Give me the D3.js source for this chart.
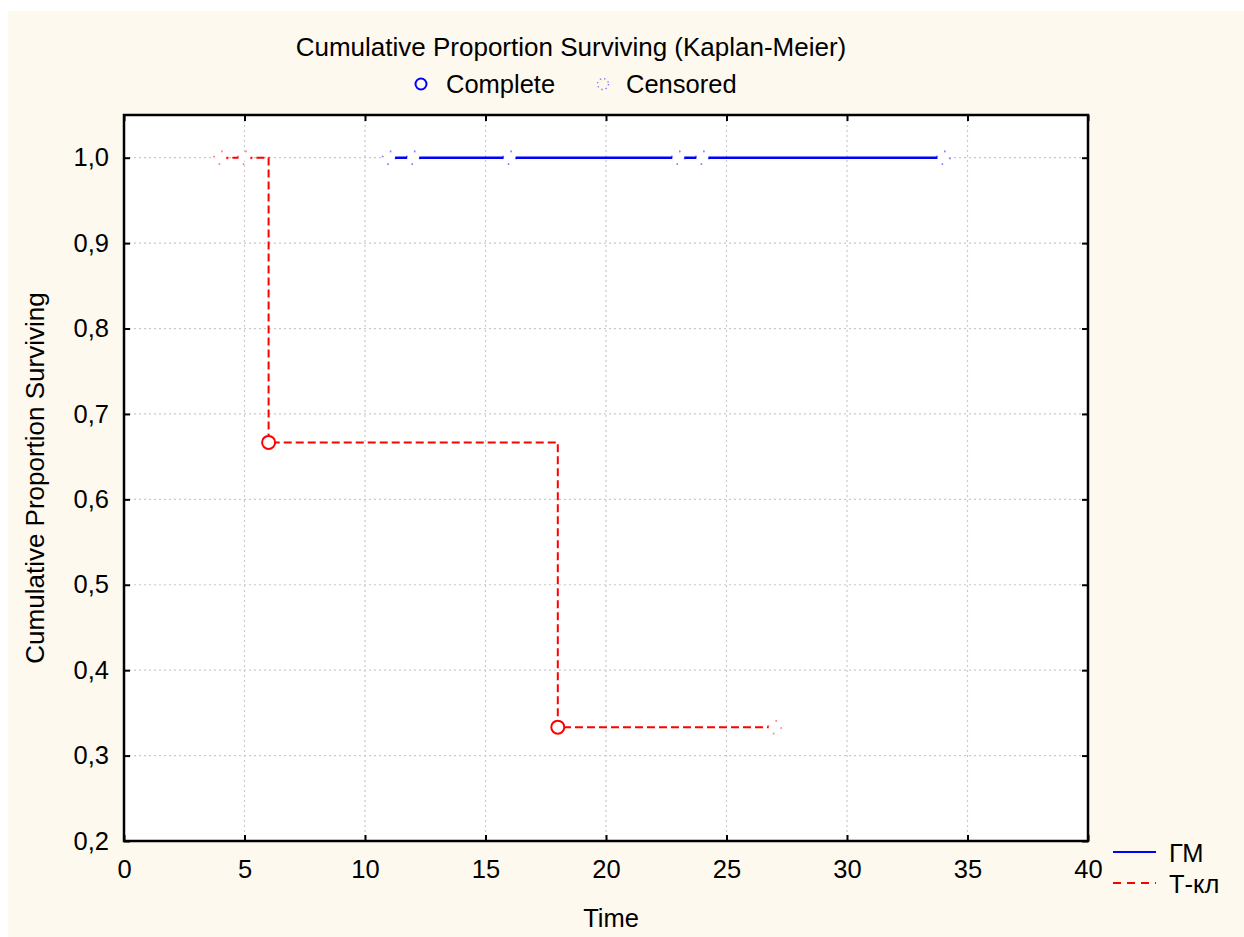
<!DOCTYPE html>
<html>
<head>
<meta charset="utf-8">
<script src="https://cdn.jsdelivr.net/npm/d3@7"></script>
<style>
  body { margin: 0; background: #fff; }
  text { font-family: Arial, "Liberation Sans", sans-serif; fill: #000; }
</style>
</head>
<body>
<script>
// Kaplan-Meier data
const gmTimes = [11, 12, 16, 23, 24, 34];
const gmSurv = [1, 1, 1, 1, 1, 1];
const gmCensored = [1, 1, 1, 1, 1, 1];

const tklTimes = [4, 5, 6, 18, 27];
const tklSurv = [1, 1, 0.6667, 0.3333, 0.3333];
const tklCensored = [1, 1, 0, 0, 1];

const xTicks = [0, 5, 10, 15, 20, 25, 30, 35, 40];
const yTicks = [0.2, 0.3, 0.4, 0.5, 0.6, 0.7, 0.8, 0.9, 1.0];

const seriesNames = ["ГМ", "Т-кл"];

const width = 1244, height = 937;
const plot = { left: 124, top: 115, right: 1088, bottom: 841 };
const fontSize = 25.5;

const svg = d3.select("body").append("svg")
    .attr("width", width)
    .attr("height", height);

// cream background panel
svg.append("rect")
    .attr("x", 8).attr("y", 11)
    .attr("width", width - 8).attr("height", height - 11)
    .attr("fill", "#fdf9ee");

let x = d3.scaleLinear().domain([0, 40]).range([plot.left, plot.right]);
let y = d3.scaleLinear().domain([0.2, 1.05]).range([plot.bottom, plot.top]);

// plot area
svg.append("rect")
    .attr("x", plot.left).attr("y", plot.top)
    .attr("width", plot.right - plot.left).attr("height", plot.bottom - plot.top)
    .attr("fill", "#fff");

// grid lines
const grid = svg.append("g").attr("stroke", "#c9c9c9").attr("stroke-width", 1.2)
    .attr("stroke-dasharray", "2,3");
grid.selectAll(".vgrid")
    .data(xTicks.slice(1, -1))
    .enter().append("line")
    .attr("x1", d => x(d)).attr("x2", d => x(d))
    .attr("y1", plot.top).attr("y2", plot.bottom);
grid.selectAll(".hgrid")
    .data(yTicks.slice(1))
    .enter().append("line")
    .attr("x1", plot.left).attr("x2", plot.right)
    .attr("y1", d => y(d)).attr("y2", d => y(d));

// axes (ticks pointing inward, labels drawn with the axis)
const fmt = d => d3.format(".1f")(d).replace(".", ",");

const xAxis = svg.append("g")
    .attr("transform", "translate(0," + plot.bottom + ")")
    .call(d3.axisBottom(x).tickValues(xTicks).tickSize(-6).tickPadding(29).tickFormat(d3.format("d")));
const yAxis = svg.append("g")
    .attr("transform", "translate(" + plot.left + ",0)")
    .call(d3.axisLeft(y).tickValues(yTicks).tickSize(-6).tickPadding(15).tickFormat(fmt));
svg.append("g")
    .attr("transform", "translate(0," + plot.top + ")")
    .call(d3.axisTop(x).tickValues(xTicks).tickSize(-6).tickFormat(""));
svg.append("g")
    .attr("transform", "translate(" + plot.right + ",0)")
    .call(d3.axisRight(y).tickValues(yTicks).tickSize(-6).tickFormat(""));

svg.selectAll(".domain").remove();
svg.selectAll(".tick line").attr("stroke", "#000").attr("stroke-width", 2);
svg.selectAll(".tick text").attr("font-size", fontSize).attr("font-family", "Arial, 'Liberation Sans', sans-serif");
xAxis.selectAll(".tick text").attr("dy", "0.3em");

// series
function drawSeries(times, surv, cens, color, dash) {
    const pts = times.map((t, i) => ({ t: t, s: surv[i], c: cens[i] }));
    const line = d3.line()
        .x(d => x(d.t)).y(d => y(d.s))
        .curve(d3.curveStepAfter);

    svg.append("path")
        .datum(pts)
        .attr("d", line)
        .attr("fill", "none")
        .attr("stroke", color)
        .attr("stroke-width", dash ? 2 : 2.6)
        .attr("stroke-dasharray", dash ? "8,4" : null);

    // the line is cut around censored points
    svg.selectAll(null)
        .data(pts.filter(d => d.c))
        .enter().append("rect")
        .attr("x", d => x(d.t) - 6).attr("y", d => y(d.s) - 3)
        .attr("width", 12).attr("height", 6)
        .attr("fill", "#fff");

    svg.selectAll(null)
        .data(pts.filter(d => d.c))
        .enter().append("circle")
        .attr("cx", d => x(d.t)).attr("cy", d => y(d.s))
        .attr("r", 6.5)
        .attr("fill", "none")
        .attr("stroke", color)
        .attr("stroke-opacity", 0.5)
        .attr("stroke-width", 1.8)
        .attr("stroke-dasharray", "1.6,8.6");

    svg.selectAll(null)
        .data(pts.filter(d => !d.c))
        .enter().append("circle")
        .attr("cx", d => x(d.t)).attr("cy", d => y(d.s))
        .attr("r", 6.5)
        .attr("fill", "#fff")
        .attr("stroke", color)
        .attr("stroke-width", 2);
}

drawSeries(gmTimes, gmSurv, gmCensored, "#0000ff", false);
drawSeries(tklTimes, tklSurv, tklCensored, "#ff0000", true);

// frame
svg.append("rect")
    .attr("x", plot.left).attr("y", plot.top)
    .attr("width", plot.right - plot.left).attr("height", plot.bottom - plot.top)
    .attr("fill", "none")
    .attr("stroke", "#000")
    .attr("stroke-width", 2.5);

// titles
svg.append("text")
    .attr("x", 571).attr("y", 56)
    .attr("text-anchor", "middle")
    .attr("font-size", 26)
    .text("Cumulative Proportion Surviving (Kaplan-Meier)");

svg.append("text")
    .attr("x", 611).attr("y", 927)
    .attr("text-anchor", "middle")
    .attr("font-size", fontSize)
    .text("Time");

svg.append("text")
    .attr("transform", "translate(44," + ((plot.top + plot.bottom) / 2) + ") rotate(-90)")
    .attr("text-anchor", "middle")
    .attr("font-size", 26)
    .text("Cumulative Proportion Surviving");

// top legend: marker types
svg.append("circle")
    .attr("cx", 421).attr("cy", 84).attr("r", 5.5)
    .attr("fill", "none").attr("stroke", "#0000ff").attr("stroke-width", 2);
svg.append("text").attr("x", 446).attr("y", 93).attr("font-size", fontSize).text("Complete");
svg.append("circle")
    .attr("cx", 603).attr("cy", 84).attr("r", 5.5)
    .attr("fill", "none").attr("stroke", "#0000ff").attr("stroke-opacity", 0.5)
    .attr("stroke-width", 1.4).attr("stroke-dasharray", "1.4,3");
svg.append("text").attr("x", 626).attr("y", 93).attr("font-size", fontSize).text("Censored");

// bottom-right legend: series
const legend = svg.append("g");
const legColors = ["#0000ff", "#ff0000"];
seriesNames.forEach((name, i) => {
    const ly = 852 + i * 31;
    legend.append("line")
        .attr("x1", 1113).attr("x2", 1156)
        .attr("y1", ly).attr("y2", ly)
        .attr("stroke", legColors[i])
        .attr("stroke-width", 2)
        .attr("stroke-dasharray", i ? "8,6" : null);
    legend.append("text")
        .attr("x", 1169).attr("y", ly + 10)
        .attr("font-size", fontSize)
        .text(name);
});
</script>
</body>
</html>
